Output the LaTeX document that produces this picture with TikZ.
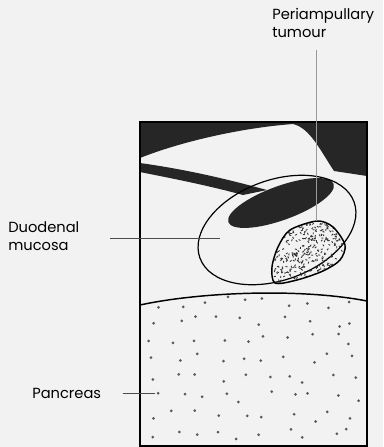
\documentclass[tikz,border=0pt]{standalone}
\usepackage{fontspec}
\setmainfont{Poppins}

\begin{document}
\begin{tikzpicture}[x = 0.75pt, y = -0.75pt,
	outline/.style = {line width = 0.9pt},
	leader/.style = {black!70, line width = 0.5pt},
	lbl/.style = {inner sep = 0pt, font = \fontsize{11}{13.5}\selectfont, align = left},
	dark/.style = {fill = black!85}]
	\fill[white!95!black] (0, 0) rectangle (383, 447);
	\useasboundingbox (0, 0) rectangle (383, 447);
	
	% dark tissue at the top, the duct and the ampulla
	\fill[dark] (140, 122) -- (367, 122) -- (367, 176) -- (334, 171) .. controls (320, 150) and (310, 128) .. (293, 124) .. controls (240, 128) and (180, 142) .. (140, 158) -- cycle;
	\fill[dark] (140, 163) .. controls (190, 170) and (230, 180) .. (267, 190) -- (243, 195) .. controls (210, 186) and (180, 180) .. (140, 172) -- cycle;
	\fill[dark, rotate around = {20:(281, 203)}] (281, 203) ellipse (56 and 17);
	
	% mucosa
	\draw[outline, rotate around = {20:(277, 230)}] (277, 230) ellipse (82 and 50);
	
	% tumour with its stipple
	\def\tumourpath{plot[smooth cycle] coordinates {(275, 283) (272, 267) (278, 247) (290, 230) (317, 221) (333, 227) (345, 245) (340, 260) (323, 271) (297, 280)}}
	\begin{scope}
		\clip \tumourpath;
		\pgfmathsetseed{3}
		\foreach \i in {1, ..., 420} {
			\pgfmathsetmacro\px{270 + 76 * rnd}
			\pgfmathsetmacro\py{220 + 64 * rnd}
			\pgfmathsetmacro\pa{360 * rnd}
			\draw[black!80, line width = 0.65pt] (\px, \py) -- ++(\pa:2);
		}
	\end{scope}
	\draw[outline, line width = 1.1pt] \tumourpath;
	
	% pancreas
	\begin{scope}
		\clip (140, 305) .. controls (200, 292) and (300, 288) .. (367, 301) -- (367, 446) -- (140, 446) -- cycle;
		\pgfmathsetseed{11}
		\foreach \i in {0, ..., 9}
		\foreach \j in {0, ..., 7} {
			\pgfmathsetmacro\px{148 + 22 * \i + 16 * rnd}
			\pgfmathsetmacro\py{296 + 19 * \j + 12 * rnd}
			\fill[black!65] (\px, \py) circle (1.5);
		}
	\end{scope}
	\draw[outline, line width = 1.1pt] (140, 305) .. controls (200, 292) and (300, 288) .. (367, 301);
	
	\draw[line width = 1.5pt] (140, 122) rectangle (367, 446);
	
	% labels
	\node[lbl, anchor = north west] (tumlbl) at (272, 8) {Periampullary\\tumour};
	\coordinate (tumtop) at (316, 50);
	\coordinate (tumpt) at (316, 221);
	\draw[leader, black!40] (tumtop) -- (tumpt);
	
	\node[lbl, anchor = north west] (muclbl) at (8, 221) {Duodenal\\mucosa};
	\coordinate (mucfrom) at (110, 238);
	\coordinate (mucpt) at (220, 238);
	\draw[leader] (mucfrom) -- (mucpt);
	
	\node[lbl, anchor = west] (panclbl) at (32, 393) {Pancreas};
	\coordinate (pancpt) at (155, 393);
	\draw[leader] ([xshift = 16pt]panclbl.east) -- (pancpt);
\end{tikzpicture}
\end{document}
